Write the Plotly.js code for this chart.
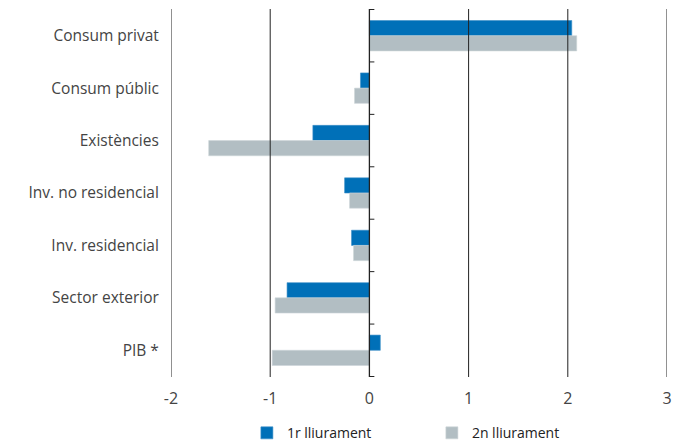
<!DOCTYPE html>
<html>
<head>
<meta charset="utf-8">
<script src="https://cdn.plot.ly/plotly-3.0.1.min.js"></script>
<style>html,body{margin:0;padding:0;background:#fff;}#chart{width:682px;height:443px;}</style>
</head>
<body>
<div id="chart"></div>
<script>
const categories = ["Consum privat", "Consum públic", "Existències", "Inv. no residencial", "Inv. residencial", "Sector exterior", "PIB *"];
const seriesNames = ["1r lliurament", "2n lliurament"];
const lliurament1 = [2.04, -0.09, -0.57, -0.25, -0.18, -0.83, 0.11];
const lliurament2 = [2.09, -0.15, -1.62, -0.20, -0.16, -0.95, -0.98];
const xTicks = [-2, -1, 0, 1, 2, 3];

const traces = [
  {type: "bar", orientation: "h", name: seriesNames[0], y: categories, x: lliurament1,
   marker: {color: "#0070b8", line: {color: "#3d8fc8", width: 0.6}}},
  {type: "bar", orientation: "h", name: seriesNames[1], y: categories, x: lliurament2,
   marker: {color: "#b2bec3", line: {color: "#cdd5d8", width: 0.6}}}
];

const shapes = [];
xTicks.filter(v => v !== 0).forEach(v => {
  shapes.push({type: "line", xref: "x", yref: "paper", x0: v, x1: v, y0: 0, y1: 1,
               line: {color: "#222", width: 1}, layer: "above"});
});
shapes.push({type: "line", xref: "x", yref: "paper", x0: 0, x1: 0, y0: 0, y1: 1,
             line: {color: "#222", width: 1.3}, layer: "above"});
for (let i = 0; i <= categories.length; i++) {
  shapes.push({type: "line", xref: "x", yref: "y", x0: 0, x1: 0.05, y0: i - 0.5, y1: i - 0.5,
               line: {color: "#222", width: 1}, layer: "above"});
}

const layout = {
  width: 682, height: 443,
  margin: {l: 171, r: 15, t: 9, b: 66, autoexpand: false},
  paper_bgcolor: "#fff", plot_bgcolor: "#fff",
  font: {family: "Open Sans, sans-serif", size: 15.5, color: "#444"},
  barmode: "group", bargap: 0.42, bargroupgap: 0,
  showlegend: true,
  legend: {orientation: "h", xref: "container", yref: "container", x: 0.362, y: 0.022,
           xanchor: "left", yanchor: "middle",
           entrywidth: 140, entrywidthmode: "pixels", itemwidth: 30,
           font: {size: 14, color: "#222"}, traceorder: "normal"},
  xaxis: {range: [-2, 3], tickvals: xTicks, ticktext: xTicks.map(String), showgrid: false, zeroline: false,
          ticks: "outside", ticklen: 7, tickcolor: "rgba(0,0,0,0)", showline: false,
          tickfont: {size: 16, color: "#444"}, fixedrange: true},
  yaxis: {type: "category", autorange: "reversed", showgrid: false, zeroline: false, showline: false,
          ticks: "outside", ticklen: 8, tickcolor: "rgba(0,0,0,0)",
          tickfont: {size: 15.5, color: "#444"}, fixedrange: true},
  shapes: shapes
};

Plotly.newPlot("chart", traces, layout, {displayModeBar: false, staticPlot: true});
</script>
</body>
</html>
